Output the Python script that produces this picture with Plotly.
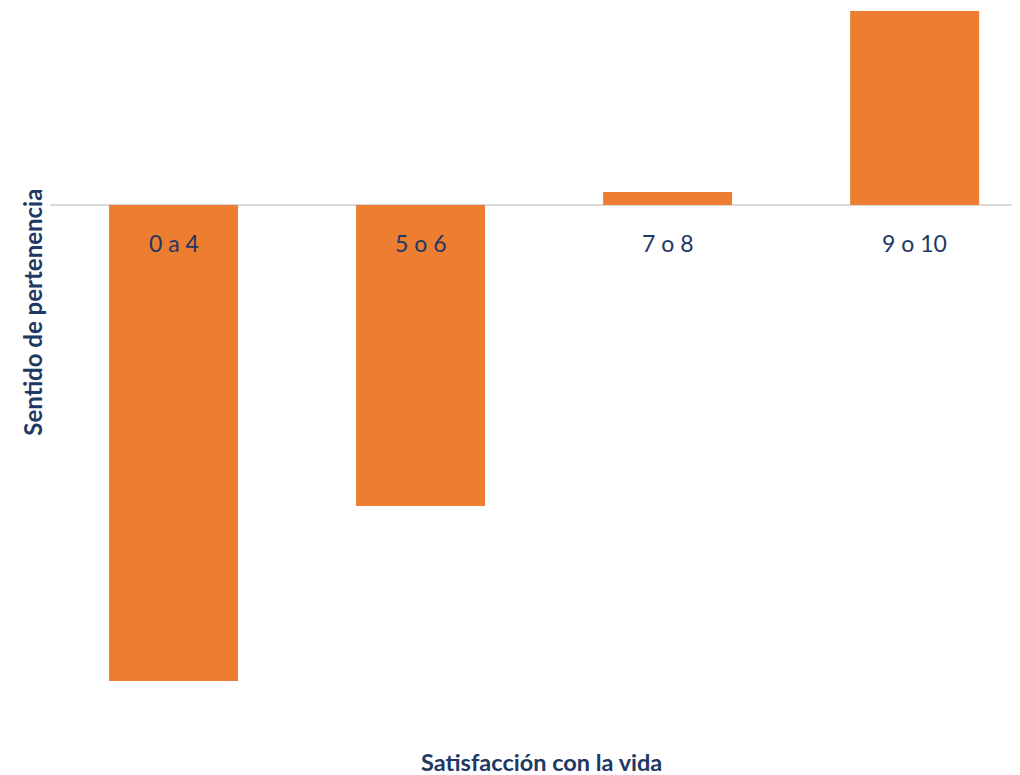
"""Sentido de pertenencia por satisfacción con la vida"""

import plotly.graph_objects as go

categories = ["0 a 4", "5 o 6", "7 o 8", "9 o 10"]
values = [-0.476, -0.301, 0.013, 0.194]

ORANGE = "#ED7D31"
NAVY = "#203864"
FONT = "Lato"

fig = go.Figure(
    go.Bar(
        x=list(range(len(categories))),
        y=values,
        width=0.522,
        marker=dict(color=ORANGE, line=dict(width=0)),
        hovertext=categories,
    )
)

# category labels sit just under the zero line, like the Excel original
for i, cat in enumerate(categories):
    fig.add_annotation(
        x=i, y=0, xref="x", yref="y",
        text=cat, showarrow=False,
        yanchor="middle", yshift=-38,
        font=dict(family=FONT, size=23, color=NAVY),
    )

fig.add_annotation(
    x=0, y=-0.0485, xref="paper", yref="paper",
    text="<b>Satisfacción con la vida</b>", showarrow=False,
    xanchor="center", yanchor="middle", xshift=491, yshift=3,
    font=dict(family=FONT, size=23.5, color=NAVY),
)
fig.add_annotation(
    x=0, y=0.578, xref="paper", yref="paper",
    text="<b>Sentido de pertenencia</b>", showarrow=False, textangle=-90,
    xanchor="center", yanchor="middle", xshift=-17,
    font=dict(family=FONT, size=24, color=NAVY),
)

fig.update_layout(
    width=1020,
    height=767,
    margin=dict(l=42, r=0, t=0, b=45),
    plot_bgcolor="white",
    paper_bgcolor="white",
    showlegend=False,
    xaxis=dict(
        range=[-0.5, 3.459],
        showticklabels=False,
        showgrid=False,
        zeroline=False,
        showline=False,
        fixedrange=True,
    ),
    yaxis=dict(
        range=[-0.525, 0.197],
        showticklabels=False,
        showgrid=False,
        zeroline=True,
        zerolinecolor="#D9D9D9",
        zerolinewidth=2,
        showline=False,
        fixedrange=True,
    ),
)

fig.write_html("out.html")
